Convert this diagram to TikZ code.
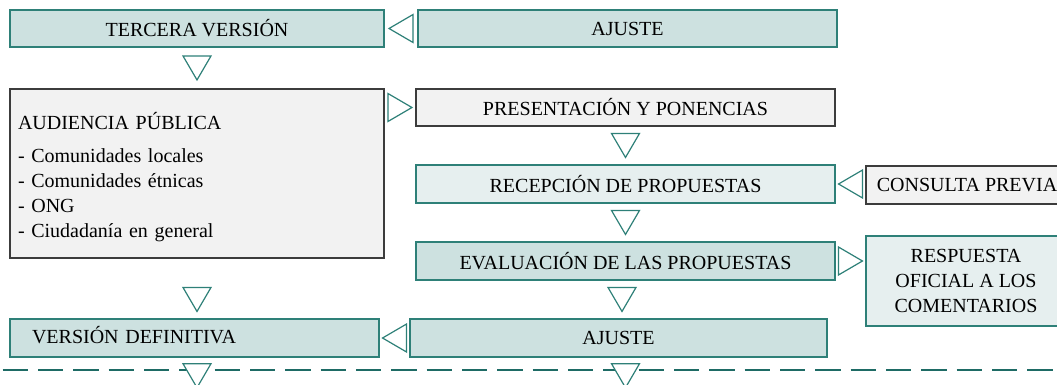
\documentclass[tikz,border=0pt]{standalone}
\usepackage{fontspec}
\setmainfont{Liberation Serif}
\usetikzlibrary{positioning, calc, shapes.geometric}
\definecolor{tealline}{HTML}{2E8078}
\definecolor{tealfill}{HTML}{CDE1E0}
\definecolor{tealpale}{HTML}{E6EFEF}
\definecolor{greyfill}{HTML}{F2F2F2}
\definecolor{greyline}{HTML}{3C3C3C}
\definecolor{dashline}{HTML}{1E6B65}

\begin{document}
\begin{tikzpicture}[x=0.75pt,y=-0.75pt,font=\fontsize{15}{18.75}\selectfont,
  tb/.style={draw=tealline,line width=1.1pt,fill=tealfill,inner sep=0pt,align=center},
  pb/.style={tb,fill=tealpale},
  gb/.style={tb,draw=greyline,fill=greyfill},
  fl/.style={isosceles triangle,isosceles triangle stretches,draw=tealline,fill=white,line width=0.9pt,inner sep=0pt,minimum width=21pt,minimum height=18pt},
  fr/.style={fl,xshift=-3pt},
  fd/.style={fl,rotate=-90,xshift=-3pt},
  fg/.style={fl,rotate=180,xshift=-3pt}]
  \useasboundingbox (0,0) rectangle (1057,385);
  % separator
  \coordinate (sepL) at (0,370);
  \coordinate (sepR) at (1057,370);
  \draw[dashline,line width=1.9pt,dash pattern=on 19pt off 7.5pt,dash phase=-2pt] (sepL)--(sepR);
  % boxes
  \node[tb,minimum width=280.5pt,minimum height=27.75pt](tercera) at (197,28.5){TERCERA VERSIÓN};
  \node[tb,minimum width=314.25pt,minimum height=27.75pt](ajusteA) at (627.5,28.5){AJUSTE};
  \node[gb,minimum width=280.5pt,minimum height=126.75pt,text width=268.5pt,align=left](audiencia) at (197,173.5){\rule{0pt}{18pt}AUDIENCIA PÚBLICA\\[6pt]- Comunidades locales\\- Comunidades étnicas\\- ONG\\- Ciudadanía en general};
  \node[gb,minimum width=314.25pt,minimum height=27.75pt](presenta) at (625.5,107.5){PRESENTACIÓN Y PONENCIAS};
  \node[pb,minimum width=314.25pt,minimum height=28.5pt](recepcion) at (625.5,184){RECEPCIÓN DE PROPUESTAS};
  \node[gb,minimum width=151.5pt,minimum height=28.5pt](consulta) at (967,185){CONSULTA PREVIA};
  \node[tb,minimum width=314.25pt,minimum height=28.5pt](evalua) at (625.5,261){EVALUACIÓN DE LAS PROPUESTAS};
  \node[pb,minimum width=150pt,minimum height=67.5pt](respuesta) at (966,281){RESPUESTA\\OFICIAL A LOS\\COMENTARIOS};
  \node[tb,minimum width=276.75pt,minimum height=28.5pt,text width=243.75pt,align=left](definitiva) at (194.5,338){\raisebox{4pt}{VERSIÓN DEFINITIVA}};
  \node[tb,minimum width=312.75pt,minimum height=28.5pt](ajusteB) at (618.5,338){AJUSTE};
  % triangles between boxes
  \node[fg](f1) at ($(tercera.east)!0.5!(ajusteA.west)$){};
  \node[fd](f2) at ($(tercera.south)!0.5!(audiencia.north)$){};
  \node[fr](f3) at ($(audiencia.east|-presenta)!0.5!(presenta.west)$){};
  \node[fd](f4) at ($(presenta.south)!0.5!(recepcion.north)$){};
  \node[fg](f5) at ($(recepcion.east)!0.5!(consulta.west|-recepcion)$){};
  \node[fd](f6) at ($(recepcion.south)!0.5!(evalua.north)$){};
  \node[fr](f7) at ($(evalua.east)!0.5!(respuesta.west|-evalua)$){};
  \coordinate (mid) at ($(evalua.south)!0.5!(ajusteB.north)$);
  \node[fd](f8) at (audiencia.south|-mid){};
  \node[fd](f9) at (mid){};
  \node[fg](f10) at ($(definitiva.east)!0.5!(ajusteB.west)$){};
  \node[fd](f11) at ($(definitiva.south-|audiencia)+(0,18)$){};
  \node[fd](f12) at ($(ajusteB.south-|evalua)+(0,18)$){};
\end{tikzpicture}
\end{document}
